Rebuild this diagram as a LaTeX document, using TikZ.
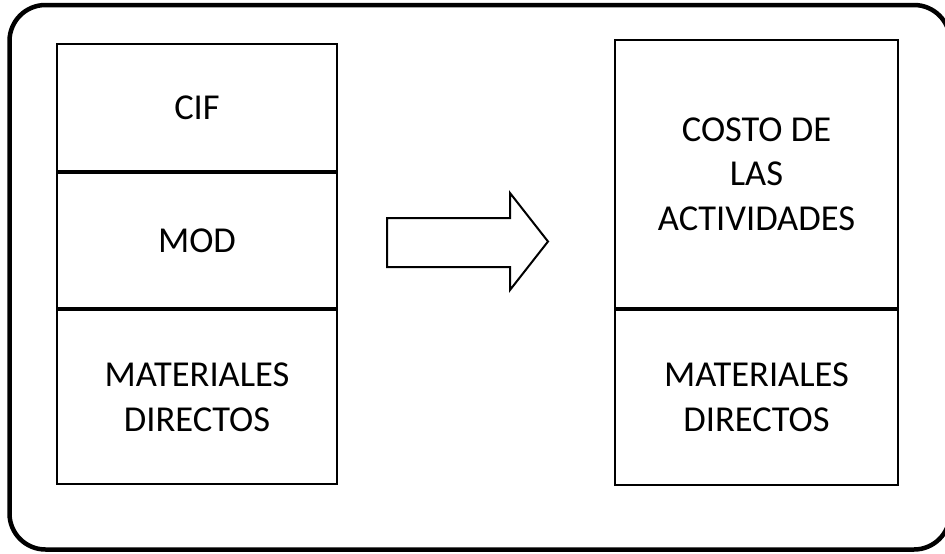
\documentclass[tikz,border=0pt]{standalone}
\usepackage{fontspec}
\setmainfont{Carlito}
\begin{document}
\begin{tikzpicture}[x=1pt,y=-1pt,
  cell/.style={draw, line width=2pt, rectangle, inner sep=0pt, align=center,
    font=\fontsize{36.5}{44.7}\selectfont},
  leftcol/.style={cell, minimum width=280pt},
  rightcol/.style={cell, minimum width=283pt}]
\useasboundingbox (0,0) rectangle (945,554);
\clip (0,0) rectangle (945,554);
% outer frame
\draw[line width=4.5pt, rounded corners=36pt] (9.5,5) rectangle (950,549.5);
% left column: cost components
\node[leftcol, minimum height=127pt, anchor=north west] (cif) at (56,43) {CIF};
\node[leftcol, minimum height=135pt, anchor=north] (mod) at (cif.south) {MOD};
\node[leftcol, minimum height=174pt, anchor=north] (mdl) at (mod.south) {MATERIALES\\DIRECTOS};
% right column: activity based cost
\node[rightcol, minimum height=268pt, anchor=north west] (act) at (614,39) {COSTO DE\\LAS\\ACTIVIDADES};
\node[rightcol, minimum height=175pt, anchor=north] (mdr) at (act.south) {MATERIALES\\DIRECTOS};
% block arrow between the columns
\draw[line width=2pt, line join=miter]
  (387,218) -- (510,218) -- (510,193) -- (548,241.5) -- (510,290) -- (510,267) -- (387,267) -- cycle;
\end{tikzpicture}
\end{document}
